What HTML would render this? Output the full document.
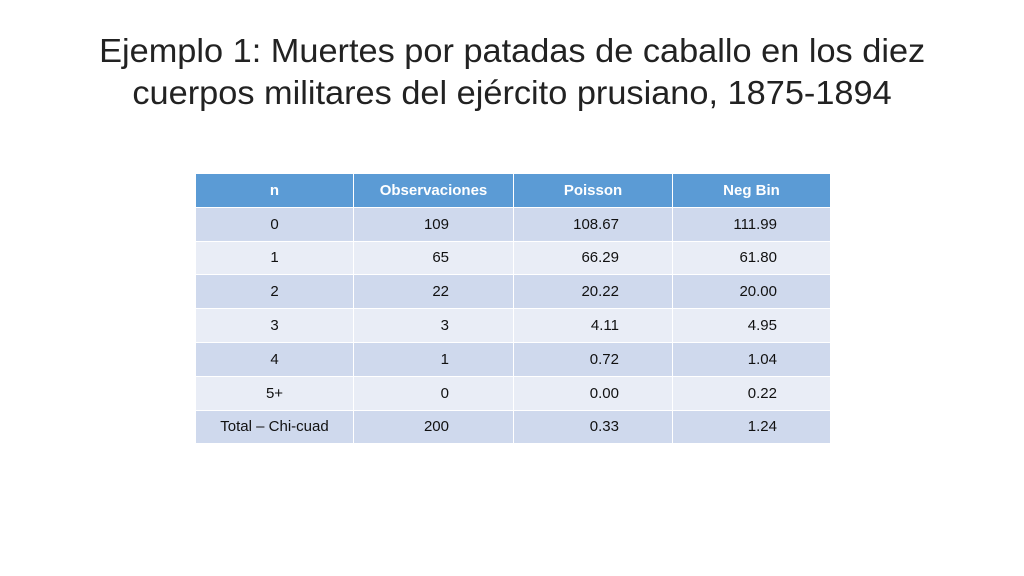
<!DOCTYPE html>
<html><head><meta charset="utf-8"><style>
body{margin:0;width:1024px;height:576px;background:#fff;font-family:"Liberation Sans",sans-serif;overflow:hidden;position:relative}
.t{position:absolute;left:0;width:1024px;text-align:center;font-size:33px;color:#222;line-height:42px}
.t span{display:inline-block;transform:scaleX(1.04);white-space:nowrap}
table{position:absolute;left:195px;top:173px;border-collapse:collapse;font-size:15px;color:#111}
td,th{height:32.8px;border:1.5px solid #fff;padding:0}
th{background:#5b9bd5;color:#fff;font-weight:bold;text-align:center}
tr:nth-child(even) td{background:#cfd9ed}
tr:nth-child(odd) td{background:#e9edf6}
td:first-child{text-align:center}
td.o{text-align:right;padding-right:64px}
td.p{text-align:right;padding-right:53px}
</style></head><body>
<div class="t" style="top:30px"><span>Ejemplo 1: Muertes por patadas de caballo en los diez</span><br><span>cuerpos militares del ejército prusiano, 1875-1894</span></div>
<table>
<colgroup><col style="width:158px"><col style="width:160px"><col style="width:159px"><col style="width:158px"></colgroup>
<tr><th>n</th><th>Observaciones</th><th>Poisson</th><th>Neg Bin</th></tr>
<tr><td>0</td><td class="o">109</td><td class="p">108.67</td><td class="p">111.99</td></tr>
<tr><td>1</td><td class="o">65</td><td class="p">66.29</td><td class="p">61.80</td></tr>
<tr><td>2</td><td class="o">22</td><td class="p">20.22</td><td class="p">20.00</td></tr>
<tr><td>3</td><td class="o">3</td><td class="p">4.11</td><td class="p">4.95</td></tr>
<tr><td>4</td><td class="o">1</td><td class="p">0.72</td><td class="p">1.04</td></tr>
<tr><td>5+</td><td class="o">0</td><td class="p">0.00</td><td class="p">0.22</td></tr>
<tr><td>Total – Chi-cuad</td><td class="o">200</td><td class="p">0.33</td><td class="p">1.24</td></tr>
</table>
</body></html>
